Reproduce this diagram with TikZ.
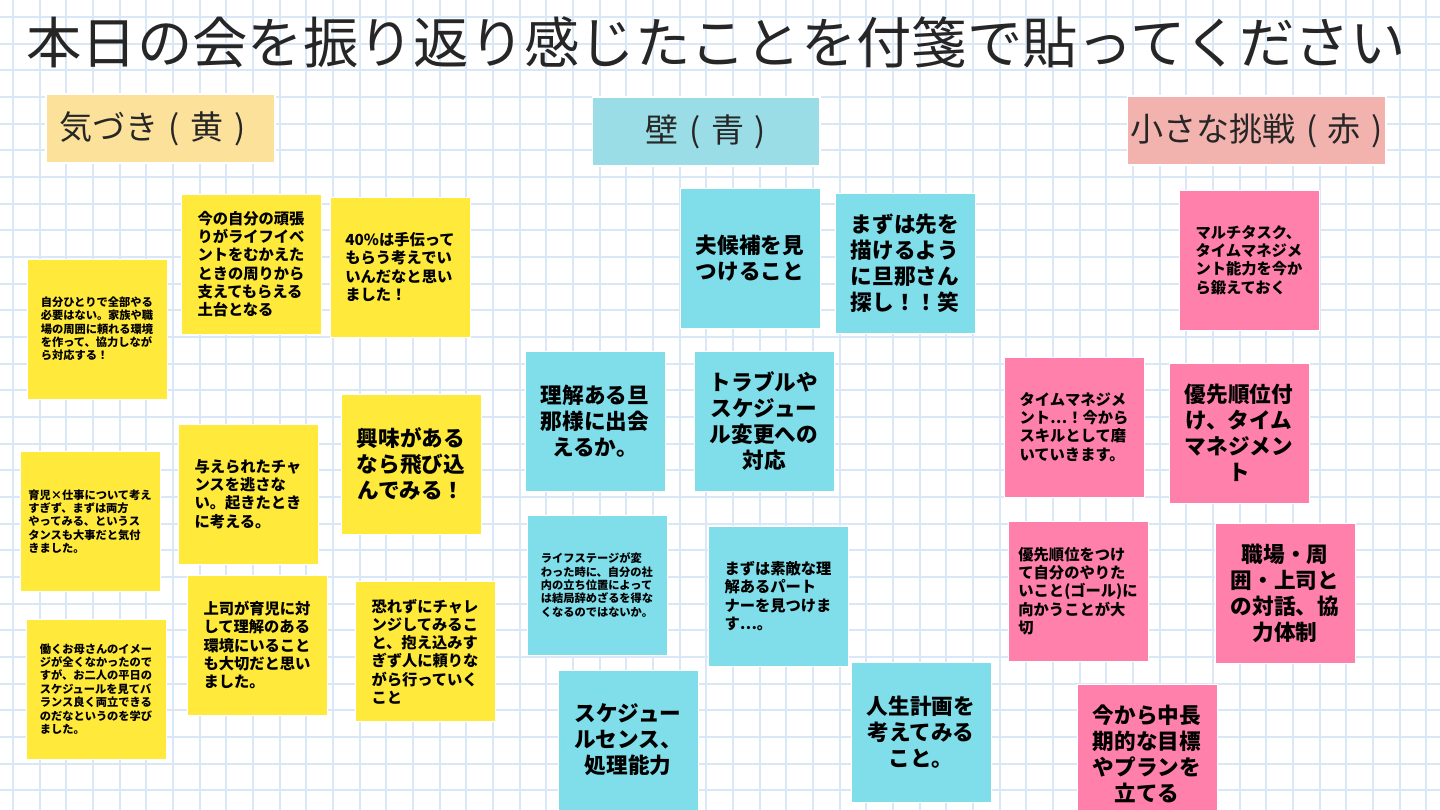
\documentclass[tikz,border=0pt]{standalone}
\usepackage{fontspec}
\setmainfont{Noto Sans CJK JP}
\definecolor{gridblue}{HTML}{DAE7F7}
\definecolor{noteyellow}{HTML}{FFEA3B}
\definecolor{noteblue}{HTML}{80DEEA}
\definecolor{notepink}{HTML}{FF80AB}
\definecolor{headyellow}{HTML}{FCE19B}
\definecolor{headblue}{HTML}{9ADDE6}
\definecolor{headpink}{HTML}{F2B2AE}
\definecolor{inkgray}{HTML}{262626}
\newcommand{\hsp}{\hspace{0.32em}}

\begin{document}
\begin{tikzpicture}[
    x=0.02cm, y=-0.02cm,
    gridline/.style={draw=gridblue, line width=0.04cm},
    note/.style={
        rectangle, draw=white, line width=0.4pt, text=black,
        minimum width=2.8cm, minimum height=2.8cm, inner sep=0pt,
    },
    yellownote/.style={note, fill=noteyellow},
    bluenote/.style={note, fill=noteblue},
    pinknote/.style={note, fill=notepink},
    txtsmall/.style={align=left, font=\fontsize{6.4}{7.6}\selectfont\bfseries},
    txtmid/.style={align=left, font=\fontsize{8.7}{10.4}\selectfont\bfseries},
    txtbig/.style={align=center, font=\fontsize{12.3}{14.8}\selectfont\bfseries},
    header/.style={
        rectangle, draw=white, line width=0.6pt, text=inkgray,
        minimum height=1.38cm, inner sep=0pt,
        font=\fontsize{18.8}{21}\selectfont,
    },
]

% ===== Canvas and grid paper =====
\useasboundingbox (0,0) rectangle (1440,810);
\clip (0,0) rectangle (1440,810);
\fill[white] (0,0) rectangle (1440,810);
\foreach \i in {0,...,53}
    \draw[gridline] ({13+26.667*\i},0) -- ++(0,810);
\foreach \j in {0,...,30}
    \draw[gridline] (0,{17+26.667*\j}) -- ++(1440,0);

% ===== Title =====
\node[text=inkgray, font=\fontsize{31.5}{34}\selectfont] (title) at (716,42)
    {本日の会を振り返り感じたことを付箋で貼ってください};

% ===== Column headers =====
\node[header, fill=headyellow, minimum width=4.58cm] (kidzuki) at (160.5,128.5) {\hspace{-0.5em}気づき\hsp{}(\hsp{}黄\hsp{})};
\node[header, fill=headblue,   minimum width=4.56cm] (kabe)    at (706,131.5)   {壁\hsp{}(\hsp{}青\hsp{})};
\node[header, fill=headpink,   minimum width=5.18cm] (chosen)  at (1256.5,130.5) {小さな挑戦\hsp{}(\hsp{}赤\hsp{})};

% ===== Yellow notes: 気づき =====
\node[yellownote, txtsmall] (y1) at (97,329) {
    自分ひとりで全部やる\\
    必要はない。家族や職\\
    場の周囲に頼れる環境\\
    を作って、協力しなが\\
    ら対応する！};
\node[yellownote, txtmid] (y2) at (251,264) {
    今の自分の頑張\\
    りがライフイベ\\
    ントをむかえた\\
    ときの周りから\\
    支えてもらえる\\
    土台となる};
\node[yellownote, txtmid] (y3) at (400,267) {
    40\%は手伝って\\
    もらう考えでい\\
    いんだなと思い\\
    ました！};
\node[yellownote, txtsmall] (y4) at (90,521.5) {
    育児×仕事について考え\\
    すぎず、まずは両方\\
    やってみる、というス\\
    タンスも大事だと気付\\
    きました。};
\node[yellownote, txtmid] (y5) at (248,494) {
    与えられたチャ\\
    ンスを逃さな\\
    い。起きたとき\\
    に考える。};
\node[yellownote, txtbig] (y6) at (411,464) {
    興味がある\\
    なら飛び込\\
    んでみる！};
\node[yellownote, txtsmall] (y7) at (96,689) {
    働くお母さんのイメー\\
    ジが全くなかったので\\
    すが、お二人の平日の\\
    スケジュールを見てバ\\
    ランス良く両立できる\\
    のだなというのを学び\\
    ました。};
\node[yellownote, txtmid] (y8) at (257,645) {
    上司が育児に対\\
    して理解のある\\
    環境にいること\\
    も大切だと思い\\
    ました。};
\node[yellownote, txtmid] (y9) at (425,651.5) {
    恐れずにチャレ\\
    ンジしてみるこ\\
    と、抱え込みす\\
    ぎず人に頼りな\\
    がら行っていく\\
    こと};

% ===== Blue notes: 壁 =====
\node[bluenote, txtbig] (b1) at (750,258) {
    夫候補を見\\
    つけること};
\node[bluenote, txtbig] (b2) at (905,263) {
    まずは先を\\
    描けるよう\\
    に旦那さん\\
    探し！！笑};
\node[bluenote, txtbig] (b3) at (595,421) {
    理解ある旦\\
    那様に出会\\
    えるか。};
\node[bluenote, txtbig] (b4) at (764,421) {
    トラブルや\\
    スケジュー\\
    ル変更への\\
    対応};
\node[bluenote, txtsmall] (b5) at (597,585) {
    ライフステージが変\\
    わった時に、自分の社\\
    内の立ち位置によって\\
    は結局辞めざるを得な\\
    くなるのではないか。};
\node[bluenote, txtmid] (b6) at (778,596) {
    まずは素敵な理\\
    解あるパート\\
    ナーを見つけま\\
    す…。};
\node[bluenote, txtbig] (b7) at (628,740) {
    スケジュー\\
    ルセンス、\\
    処理能力};
\node[bluenote, txtbig] (b8) at (921,732) {
    人生計画を\\
    考えてみる\\
    こと。};

% ===== Pink notes: 小さな挑戦 =====
\node[pinknote, txtmid] (p1) at (1249,260) {
    マルチタスク、\\
    タイムマネジメ\\
    ント能力を今か\\
    ら鍛えておく};
\node[pinknote, txtmid] (p2) at (1074,427) {
    タイムマネジメ\\
    ント…！今から\\
    スキルとして磨\\
    いていきます。};
\node[pinknote, txtbig] (p3) at (1239,433) {
    優先順位付\\
    け、タイム\\
    マネジメン\\
    ト};
\node[pinknote, txtmid] (p4) at (1078,591) {
    優先順位をつけ\\
    て自分のやりた\\
    いこと(ゴール)に\\
    向かうことが大\\
    切};
\node[pinknote, txtbig] (p5) at (1285,593) {
    職場・周\\
    囲・上司と\\
    の対話、協\\
    力体制};
\node[pinknote, txtbig] (p6) at (1147,754) {
    今から中長\\
    期的な目標\\
    やプランを\\
    立てる};

\end{tikzpicture}
\end{document}
